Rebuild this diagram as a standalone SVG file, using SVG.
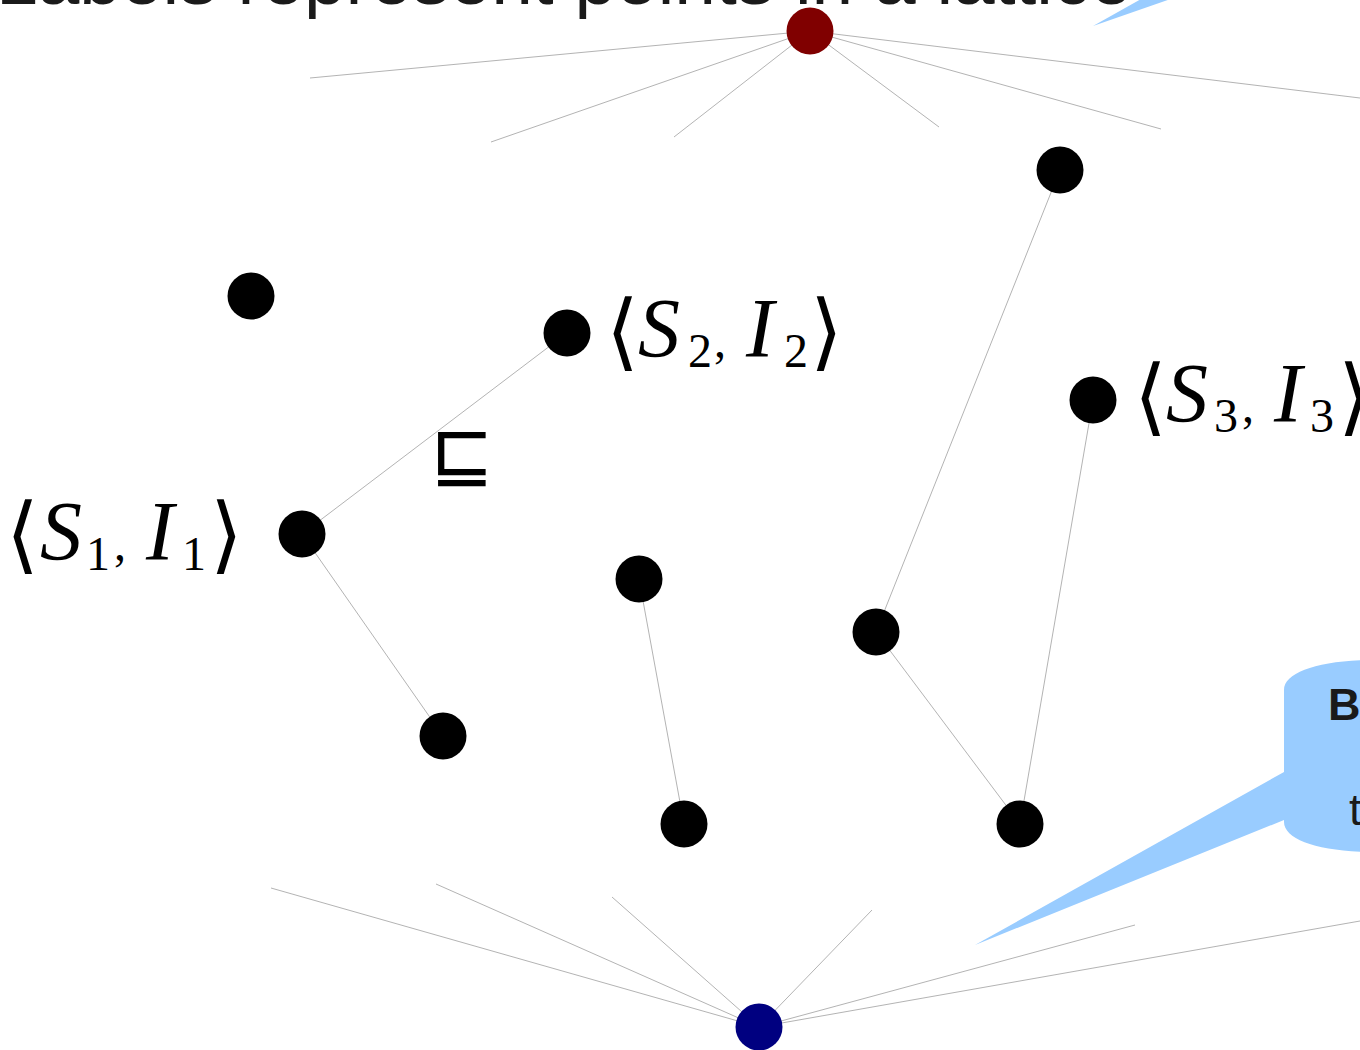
<svg xmlns="http://www.w3.org/2000/svg" width="1360" height="1050" viewBox="0 0 1360 1050">
<style>
.edge{stroke:#a0a0a0;stroke-width:0.8;fill:none}
.node{fill:#000}
.math{font-family:"Liberation Serif","DejaVu Serif",serif;fill:#000}
.it{font-style:italic;font-size:84px}
.sub{font-size:48px}
.br{font-family:"DejaVu Serif",serif;font-size:84px}
.callout{fill:#99ccff}
.ctext{font-family:"Liberation Sans","DejaVu Sans",sans-serif;fill:#1a1a1a}
</style>
<rect width="1360" height="1050" fill="#fff"/>
<text x="-4" y="4" font-family="Liberation Sans, DejaVu Sans, sans-serif" font-size="72" fill="#1a1a1a" textLength="1136" lengthAdjust="spacingAndGlyphs">Labels represent points in a lattice</text>
<polygon class="callout" points="1093,26 1150,-6 1185,-6"/>
<g id="connectors">
<line class="edge" x1="810" y1="31" x2="310" y2="78"/>
<line class="edge" x1="810" y1="31" x2="491" y2="142"/>
<line class="edge" x1="810" y1="31" x2="674" y2="137"/>
<line class="edge" x1="810" y1="31" x2="939" y2="127"/>
<line class="edge" x1="810" y1="31" x2="1161" y2="129"/>
<line class="edge" x1="810" y1="31" x2="1360" y2="98"/>
<line class="edge" x1="567" y1="333" x2="302" y2="534"/>
<line class="edge" x1="302" y1="534" x2="443" y2="736"/>
<line class="edge" x1="639" y1="579" x2="684" y2="824"/>
<line class="edge" x1="1060" y1="170" x2="876" y2="632"/>
<line class="edge" x1="876" y1="632" x2="1020" y2="824"/>
<line class="edge" x1="1093" y1="400" x2="1020" y2="824"/>
<line class="edge" x1="759" y1="1027" x2="271" y2="888"/>
<line class="edge" x1="759" y1="1027" x2="436" y2="884"/>
<line class="edge" x1="759" y1="1027" x2="612" y2="897"/>
<line class="edge" x1="759" y1="1027" x2="872" y2="910"/>
<line class="edge" x1="759" y1="1027" x2="1135" y2="925"/>
<line class="edge" x1="759" y1="1027" x2="1360" y2="921"/>
</g>
<g id="top"><circle cx="810" cy="31" r="23.5" fill="#800000"/></g>
<g id="bottom"><circle cx="759" cy="1027" r="23.5" fill="#000080"/></g>
<g id="n1"><circle class="node" cx="1060" cy="170" r="23.5"/></g>
<g id="n2"><circle class="node" cx="251" cy="296" r="23.5"/></g>
<g id="n3"><circle class="node" cx="567" cy="333" r="23.5"/>
<text class="math" y="360"><tspan class="br" x="606">⟨</tspan><tspan class="it" x="638" y="357">S</tspan><tspan class="sub" x="688" y="367">2</tspan><tspan class="sub" x="714" y="357">,</tspan><tspan class="it" x="746">I</tspan><tspan class="sub" x="784" y="367">2</tspan><tspan class="br" x="810" y="360">⟩</tspan></text></g>
<g id="n4"><circle class="node" cx="1093" cy="400" r="23.5"/>
<text class="math" y="425"><tspan class="br" x="1134">⟨</tspan><tspan class="it" x="1166" y="422">S</tspan><tspan class="sub" x="1214" y="432">3</tspan><tspan class="sub" x="1242" y="422">,</tspan><tspan class="it" x="1274">I</tspan><tspan class="sub" x="1310" y="432">3</tspan><tspan class="br" x="1338" y="425">⟩</tspan></text></g>
<g id="n5"><circle class="node" cx="302" cy="534" r="23.5"/>
<text class="math" y="563"><tspan class="br" x="6">⟨</tspan><tspan class="it" x="40" y="560">S</tspan><tspan class="sub" x="86" y="570">1</tspan><tspan class="sub" x="114" y="560">,</tspan><tspan class="it" x="146">I</tspan><tspan class="sub" x="182" y="570">1</tspan><tspan class="br" x="210" y="563">⟩</tspan></text></g>
<g id="n6"><circle class="node" cx="639" cy="579" r="23.5"/></g>
<g id="n7"><circle class="node" cx="876" cy="632" r="23.5"/></g>
<g id="n8"><circle class="node" cx="443" cy="736" r="23.5"/></g>
<g id="n9"><circle class="node" cx="684" cy="824" r="23.5"/></g>
<g id="n10"><circle class="node" cx="1020" cy="824" r="23.5"/></g>
<g id="order"><text x="430" y="480" font-family="DejaVu Sans, sans-serif" font-size="76" fill="#000">⊑</text></g>
<g id="callout">
<path class="callout" d="M1284,772 L975,945 L1284,820 L1284,822 C1284,840 1320,852 1375,852 L1375,660 C1320,660 1284,672 1284,690 Z"/>
<text class="ctext" x="1328" y="720" font-size="45" font-weight="bold">B</text>
<text class="ctext" x="1349" y="825" font-size="45">t</text>
</g>
</svg>
